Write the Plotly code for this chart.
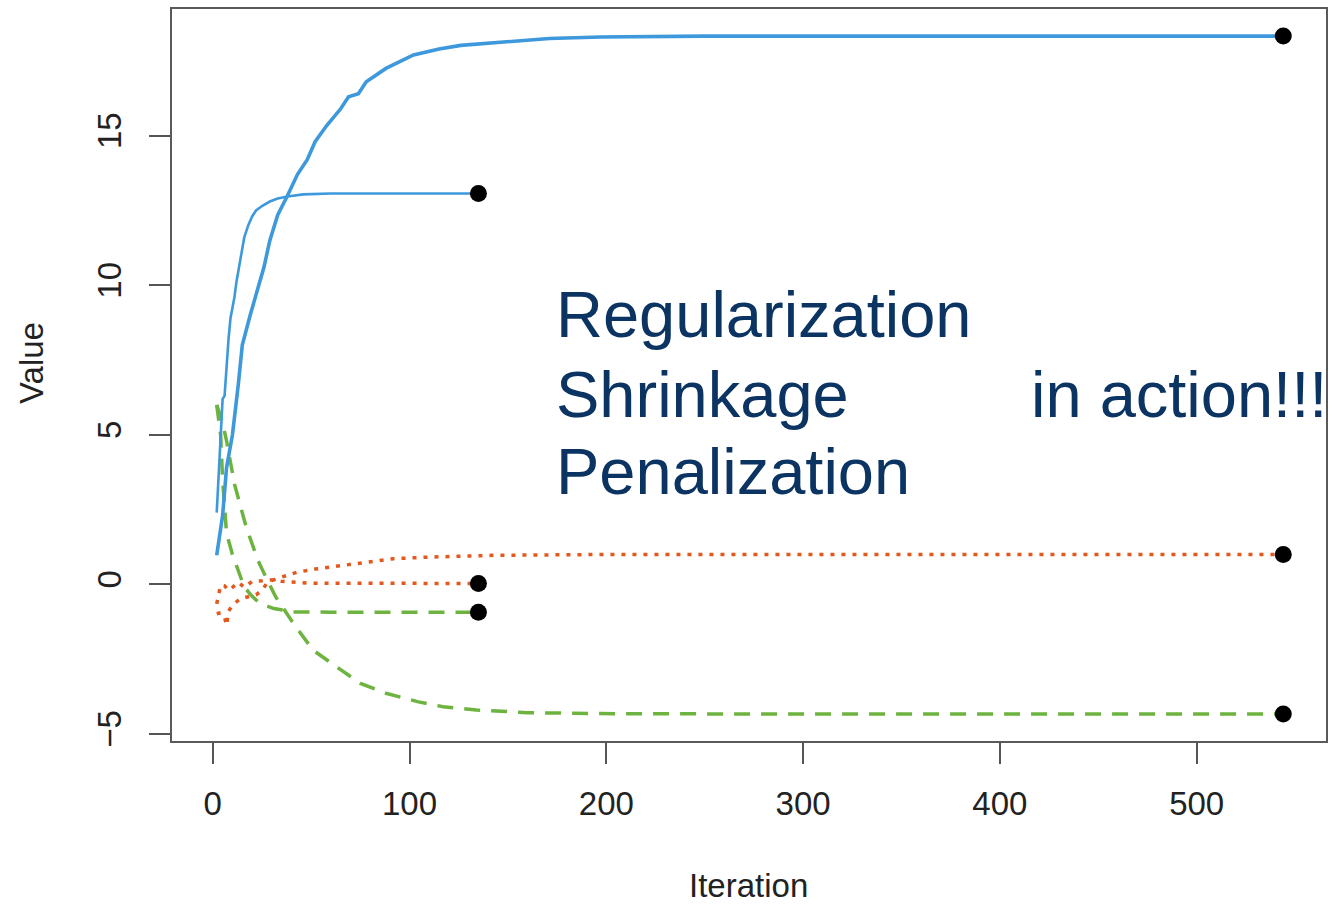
import plotly.graph_objects as go

# ---- data: coefficient traces over iterations ----
# short run (135 iterations)
blue_short_iter = [2, 3, 4, 5, 6, 7, 8, 9, 10, 11, 12, 14, 16, 18, 20, 22, 25, 29, 33, 38, 46, 60, 135]
blue_short_val = [2.4, 3.6, 5.0, 6.2, 6.3, 7.4, 8.2, 8.9, 9.2, 9.6, 10.1, 10.9, 11.6, 12.0, 12.3,
                  12.5, 12.65, 12.8, 12.9, 12.97, 13.04, 13.07, 13.07]

green_short_iter = [2, 4, 5, 7, 10, 14, 16, 20, 24, 31, 41, 60, 135]
green_short_val = [6.0, 5.0, 3.5, 1.7, 1.0, 0.24, -0.09, -0.4, -0.64, -0.81, -0.92, -0.93, -0.93]

orange_short_iter = [2, 4, 6, 8, 10, 13, 16, 20, 25, 30, 35, 40, 50, 135]
orange_short_val = [-0.65, -0.03, -0.05, -0.2, -0.1, 0.07, -0.1, 0.1, 0.12, 0.15, 0.1, 0.08, 0.04, 0.03]

# long run (544 iterations)
blue_long_iter = [2, 4, 5, 7, 10, 13, 15, 19, 22, 26, 29, 33, 38, 43, 48, 52, 58, 65, 69, 71, 74, 78,
                  88, 102, 115, 126, 146, 171, 197, 250, 544]
blue_long_val = [0.97, 2.0, 2.3, 3.9, 5.0, 6.7, 8.0, 9.0, 9.7, 10.6, 11.5, 12.35, 13.0, 13.7, 14.2,
                 14.8, 15.35, 15.9, 16.3, 16.35, 16.4, 16.8, 17.25, 17.7, 17.9, 18.02, 18.13, 18.25,
                 18.3, 18.33, 18.33]

green_long_iter = [2, 5, 7, 11, 17, 23, 27, 32, 41, 51, 63, 75, 88, 104, 117, 134, 160, 197, 250, 544]
green_long_val = [6.0, 5.4, 4.8, 3.36, 1.91, 0.8, 0.24, -0.42, -1.31, -2.2, -2.76, -3.31, -3.64,
                  -3.92, -4.09, -4.2, -4.29, -4.32, -4.33, -4.33]

orange_long_iter = [2, 4, 6, 7, 8, 10, 14, 18, 22, 25, 28, 33, 38, 43, 53, 62, 71, 92, 109, 142, 200, 544]
orange_long_val = [-0.98, -0.95, -1.1, -1.37, -0.9, -0.7, -0.48, -0.42, -0.35, -0.2, 0.08, 0.2, 0.3,
                   0.41, 0.52, 0.6, 0.69, 0.86, 0.91, 0.97, 1.0, 1.0]

x_ticks = [0, 100, 200, 300, 400, 500]
y_ticks = [-5, 0, 5, 10, 15]

BLUE = "#3d99dc"
GREEN = "#6db33f"
ORANGE = "#e3581d"
NAVY = "#0b3463"
FONT = "Liberation Sans"

W, H = 1335, 904
L, R, T, B = 172, 9, 7, 163


def paper_x(px):
    return (px - L) / (W - L - R)


def paper_y(py):
    return (H - B - py) / (H - T - B)


fig = go.Figure()


def add_line(xs, ys, color, width, dash):
    fig.add_trace(go.Scatter(x=xs, y=ys, mode="lines",
                             line=dict(color=color, width=width, dash=dash),
                             showlegend=False, hoverinfo="skip"))


add_line(green_long_iter, green_long_val, GREEN, 3.5, "16px,11px")
add_line(green_short_iter, green_short_val, GREEN, 3.5, "16px,11px")
add_line(orange_long_iter, orange_long_val, ORANGE, 3.5, "4px,7px")
add_line(orange_short_iter, orange_short_val, ORANGE, 3.5, "4px,7px")
add_line(blue_short_iter, blue_short_val, BLUE, 2.6, "solid")
add_line(blue_long_iter, blue_long_val, BLUE, 3.6, "solid")

# final values of each run
series = [
    (blue_short_iter, blue_short_val), (green_short_iter, green_short_val),
    (orange_short_iter, orange_short_val), (blue_long_iter, blue_long_val),
    (green_long_iter, green_long_val), (orange_long_iter, orange_long_val),
]
fig.add_trace(go.Scatter(
    x=[s[0][-1] for s in series], y=[s[1][-1] for s in series], mode="markers",
    marker=dict(color="black", size=17), showlegend=False, hoverinfo="skip"))

x_lo, x_hi = 1, 544
y_lo, y_hi = -4.33, 18.33
xpad = 0.04 * (x_hi - x_lo)
ypad = 0.04 * (y_hi - y_lo)

axis_common = dict(showgrid=False, zeroline=False, showline=True, mirror=True,
                   linecolor="#5a5a5a", linewidth=2, ticks="outside", ticklen=21,
                   tickwidth=1.5, tickcolor="#555555",
                   tickfont=dict(family=FONT, size=33, color="#222222"))

fig.update_xaxes(range=[x_lo - xpad, x_hi + xpad], tickvals=x_ticks,
                 ticklabelstandoff=11, **axis_common)
fig.update_yaxes(range=[y_lo - ypad, y_hi + ypad], tickvals=y_ticks, tickangle=-90,
                 ticklabelstandoff=15, **axis_common)

annotations = [
    dict(text="Iteration", x=paper_x(748), y=paper_y(886), font=dict(size=33, color="#222222"),
         xanchor="center", yanchor="middle"),
    dict(text="Value", x=paper_x(31), y=paper_y(362), font=dict(size=33, color="#222222"),
         textangle=-90, xanchor="center", yanchor="middle"),
    dict(text="Regularization", x=paper_x(554), y=paper_y(313), font=dict(size=65, color=NAVY),
         xanchor="left", yanchor="middle"),
    dict(text="Shrinkage", x=paper_x(554), y=paper_y(394), font=dict(size=65, color=NAVY),
         xanchor="left", yanchor="middle"),
    dict(text="Penalization", x=paper_x(554), y=paper_y(471), font=dict(size=65, color=NAVY),
         xanchor="left", yanchor="middle"),
    dict(text="in action!!!", x=paper_x(1029), y=paper_y(394), font=dict(size=65, color=NAVY),
         xanchor="left", yanchor="middle"),
]
for a in annotations:
    a.update(xref="paper", yref="paper", showarrow=False)
    a["font"]["family"] = FONT

fig.update_layout(width=W, height=H, margin=dict(l=L, r=R, t=T, b=B),
                  plot_bgcolor="white", paper_bgcolor="white",
                  annotations=annotations, font=dict(family=FONT))

fig.write_html("out.html")
